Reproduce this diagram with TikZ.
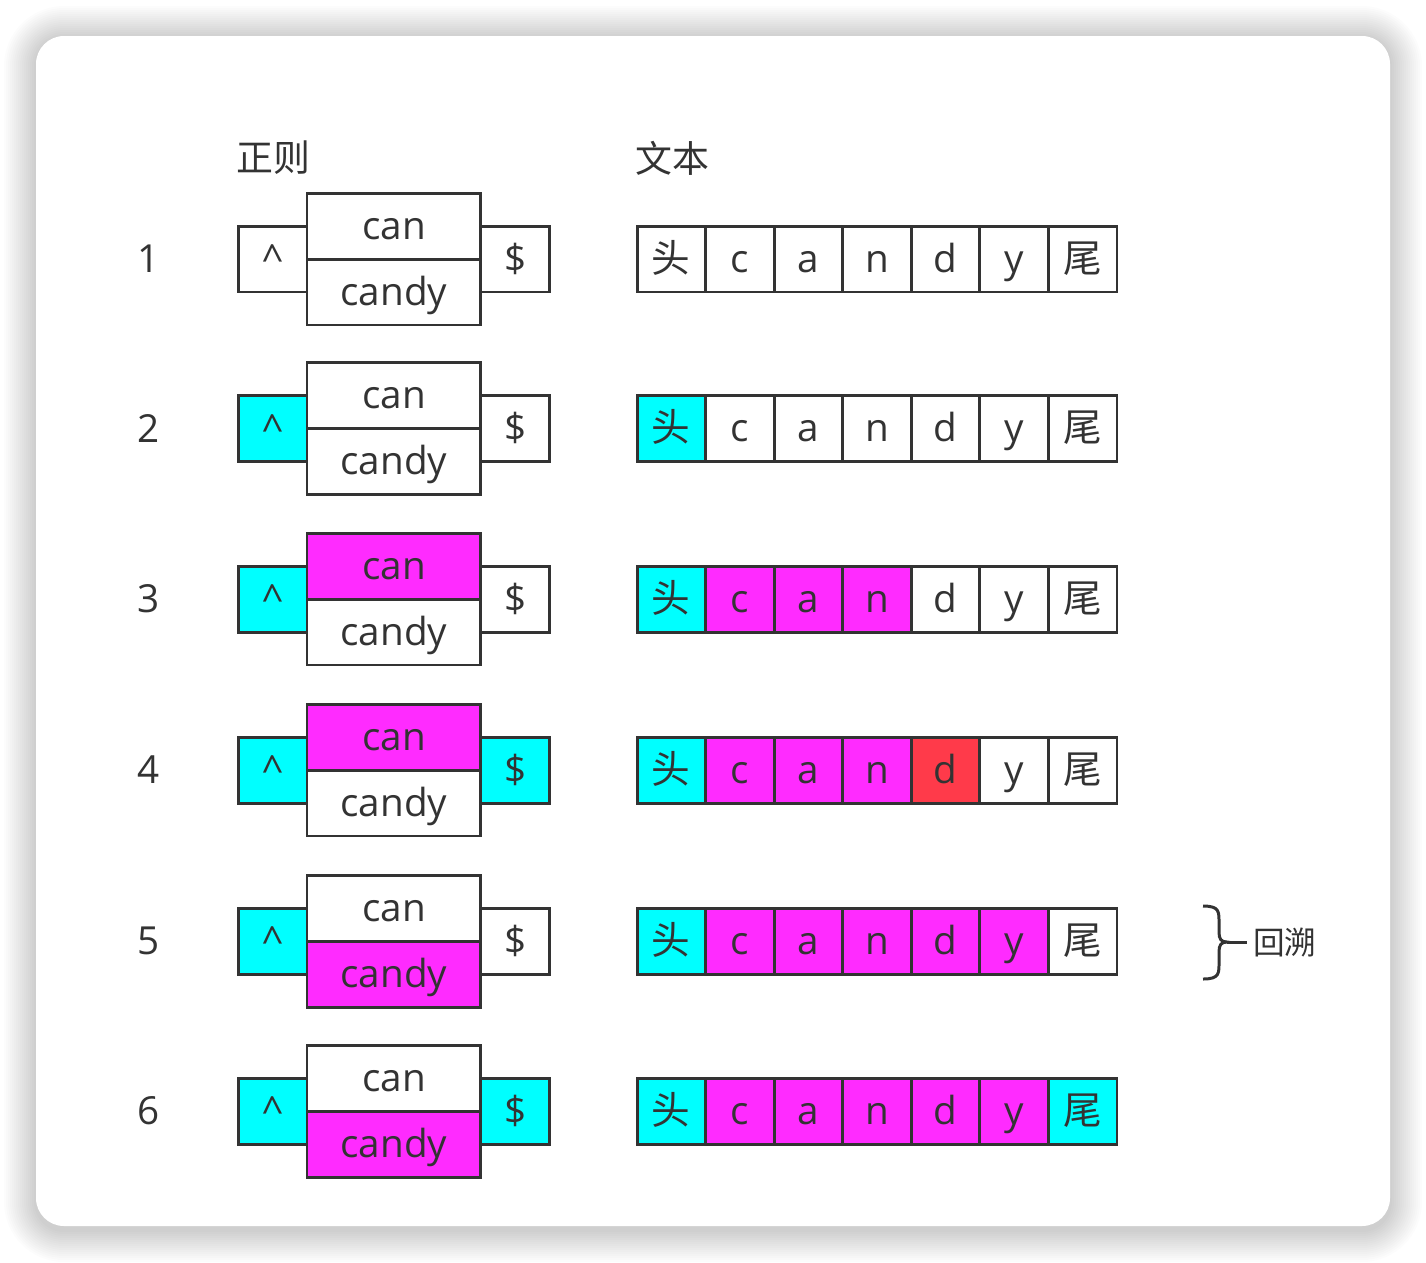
\documentclass[tikz,border=0pt]{standalone}
\usepackage{fontspec}
\setmainfont{Open Sans}
\newfontfamily\cjk{Noto Sans CJK SC}
\usepackage{tikz}
\usetikzlibrary{positioning}

\definecolor{ink}{HTML}{333333}
\definecolor{hitc}{HTML}{00FFFF}
\definecolor{hitm}{HTML}{FF2BFF}
\definecolor{miss}{HTML}{FF3A4A}

% letters of the text row
\newcommand\txtchar[1]{\ifcase#1{\cjk 头}\or c\or a\or n\or d\or y\or{\cjk 尾}\fi}

\begin{document}
\begin{tikzpicture}[
        x=0.02cm, y=-0.02cm,
        cell/.style={rectangle, draw=ink, line width=1.7pt, outer sep=0pt, inner sep=0pt, minimum width=1.371cm, minimum height=1.32cm, text=ink, font=\fontsize{22}{22}\selectfont},
        letter/.style={cell, text height=19.8pt, text depth=4.8pt},
        word/.style={letter, minimum width=3.48cm},
        rowno/.style={text=ink, font=\fontsize{22}{22}\selectfont},
        head/.style={text=ink, anchor=west, inner sep=0pt, font=\cjk\fontsize{21}{21}\selectfont},
        bracel/.style={draw=ink, line width=1.7pt}
    ]
    \useasboundingbox (0,0) rectangle (1426,1262);
    \fill[white] (0,0) rectangle (1426,1262);
    % shadow and card
    \foreach \i in {1,...,16}
        \fill[black, opacity=0.011, rounded corners=0.56cm+0.04cm*\i] ({36-2*\i},{38-2*\i}) rectangle ({1390+2*\i},{1230+2*\i});
    \fill[white, rounded corners=0.56cm] (36,36) rectangle (1390,1226);

    \node (hregex) [head] at (236,158) {正则};
    \node (htext) [head] at (635,158) {文本};

    \foreach \r/\y/\cf/\nf/\df/\sf/\tf in {
        1/259/white/white/white/white/{white,white,white,white,white,white,white},
        2/428.5/hitc/white/white/white/{hitc,white,white,white,white,white,white},
        3/599/hitc/hitm/white/white/{hitc,hitm,hitm,hitm,white,white,white},
        4/770/hitc/hitm/white/hitc/{hitc,hitm,hitm,hitm,miss,white,white},
        5/941/hitc/white/hitm/white/{hitc,hitm,hitm,hitm,hitm,hitm,white},
        6/1111/hitc/white/hitm/hitc/{hitc,hitm,hitm,hitm,hitm,hitm,hitc}}
    {
        \node (n\r) [rowno] at (149,\y) {\r};
        \node (caret\r) [cell, minimum width=1.38cm, fill=\cf] at (272.5,\y) {\textasciicircum};
        \node (can\r) [word, fill=\nf, anchor=south west] at (caret\r.east) {can};
        \node (candy\r) [word, fill=\df, anchor=north west] at (caret\r.east) {candy};
        \node (dollar\r) [letter, fill=\sf, anchor=west] at (can\r.south east) {\$};
        \foreach \f [count=\k from 0] in \tf
            \node (t\r-\k) [letter, fill=\f] at ({671.3+68.57*\k},\y) {\txtchar{\k}};
    }

    \node (back) [text=ink, anchor=west, font=\cjk\fontsize{18}{18}\selectfont] at (1247,942) {回溯};
    \coordinate (bt) at (1203,906);
    \coordinate (bb) at (1203,979);
    \coordinate (tip) at (1227,942);
    \draw[bracel] (bt) .. controls (1220,906) and (1219,912) .. (1219,924) -- (1219,932)
        .. controls (1219,939) and (1221,942) .. (tip)
        .. controls (1221,942) and (1219,945) .. (1219,952) -- (1219,961)
        .. controls (1219,973) and (1220,979) .. (bb);
    \draw[bracel] (tip) -- (back.west);
\end{tikzpicture}
\end{document}
